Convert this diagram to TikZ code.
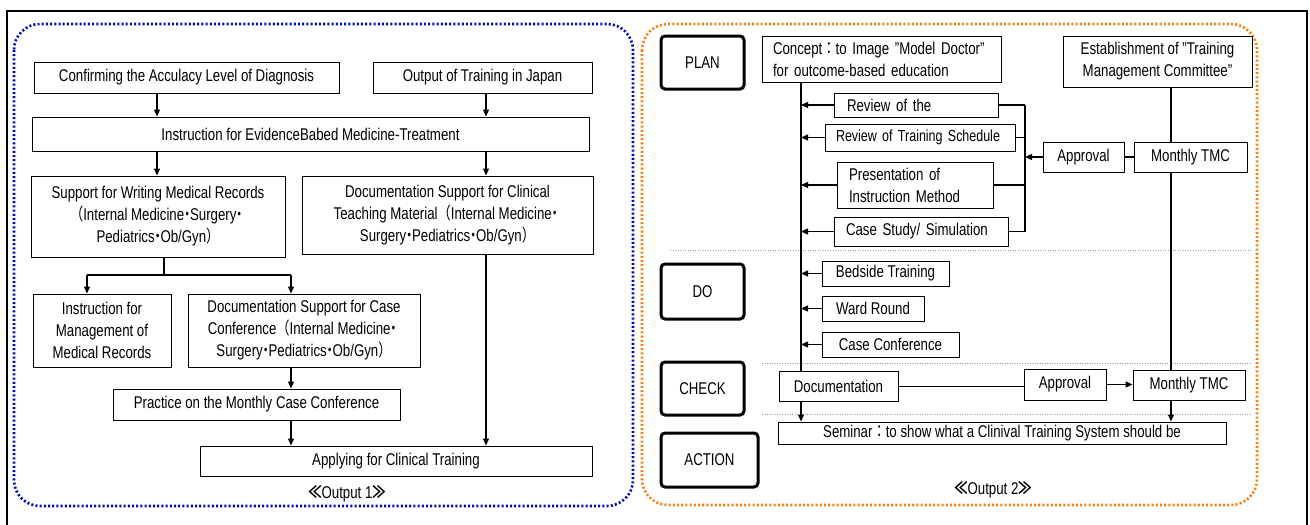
\documentclass[tikz,border=0pt]{standalone}
\usepackage{fontspec}
\setmainfont[FakeStretch=0.78]{Liberation Sans}
\newfontfamily\cjk[FakeStretch=0.78]{Noto Sans CJK JP}
\usetikzlibrary{arrows.meta}
\newcommand{\myLP}{{\cjk （}}
\newcommand{\myRP}{{\cjk ）}}
\newcommand{\myMD}{{\cjk\hspace{-0.22em}・\hspace{-0.22em}}}
\newcommand{\myFC}{{\cjk ：}}
\newcommand{\myLL}{{\cjk\bfseries ≪}}
\newcommand{\myRR}{{\cjk\bfseries ≫}}
\tikzset{
  box/.style={draw, line width=1pt, inner sep=0pt, align=center, font=\fontsize{17pt}{22pt}\selectfont},
  pdca/.style={draw, line width=3pt, rounded corners=4pt, inner sep=0pt, align=center, font=\fontsize{17pt}{22pt}\selectfont},
  arr/.style={line width=1.2pt, -{Triangle[length=7pt,width=6pt]}},
  ln/.style={line width=1.2pt},
  sepline/.style={gray!75, line width=1pt, dash pattern=on 1pt off 1.5pt},
  lbl/.style={inner sep=0pt, font=\fontsize{17pt}{20pt}\selectfont}
}
\begin{document}
\begin{tikzpicture}[x=1pt,y=-1pt]
\useasboundingbox (0,0) rectangle (1310,525);
% outer frame
\draw[line width=2pt] (7,11) rectangle (1307,540);
% panel frames
\draw[blue!90!black, line width=2.6pt, dash pattern=on 2pt off 2.2pt, rounded corners=26pt] (14,24) rectangle (633,506);
\draw[orange, line width=2.6pt, dash pattern=on 2pt off 2.2pt, rounded corners=26pt] (642,24) rectangle (1257,505);

% ---------------- left panel ----------------
\coordinate (cA) at (157,0);
\coordinate (cB) at (486,0);
\coordinate (cC) at (164,0);
\coordinate (cD) at (87,0);
\coordinate (cE) at (291,0);
\coordinate (hS) at (0,275);

\node[box, minimum width=305pt, minimum height=31pt] (conf) at (186.5,77.5) {Confirming the Acculacy Level of Diagnosis};
\node[box, minimum width=219pt, minimum height=31pt] (japan) at (482.5,77.5) {Output of Training in Japan};
\node[box, minimum width=557pt, minimum height=34pt] (ebm) at (310.5,134) {Instruction for EvidenceBabed Medicine-Treatment};
\node[box, minimum width=254pt, minimum height=81pt] (swmr) at (158,216.5) {Support for Writing Medical Records\\\myLP Internal Medicine\myMD Surgery\myMD\\Pediatrics\myMD Ob/Gyn\myRP};
\node[box, minimum width=291pt, minimum height=78pt] (dscl) at (447.5,215) {Documentation Support for Clinical\\Teaching Material\myLP Internal Medicine\myMD\\Surgery\myMD Pediatrics\myMD Ob/Gyn\myRP};
\node[box, minimum width=138pt, minimum height=73pt] (imr) at (102,330.5) {Instruction for\\Management of\\Medical Records};
\node[box, minimum width=232pt, minimum height=73pt] (dscc) at (304,330.5) {Documentation Support for Case\\Conference\myLP Internal Medicine\myMD\\Surgery\myMD Pediatrics\myMD Ob/Gyn\myRP};
\node[box, minimum width=287pt, minimum height=31pt] (prac) at (256.5,404.5) {Practice on the Monthly Case Conference};
\node[box, minimum width=392pt, minimum height=30pt] (apply) at (396,461) {Applying for Clinical Training};
\node[lbl] (out1) at (347,494) {\myLL Output 1\myRR};

\draw[arr] (conf.south -| cA) -- (ebm.north -| cA);
\draw[arr] (japan.south -| cB) -- (ebm.north -| cB);
\draw[arr] (ebm.south -| cA) -- (swmr.north -| cA);
\draw[arr] (ebm.south -| cB) -- (dscl.north -| cB);
\draw[ln] (swmr.south -| cC) -- (hS -| cC);
\draw[ln] (hS -| cD) -- (hS -| cE);
\draw[arr] (hS -| cD) -- (imr.north -| cD);
\draw[arr] (hS -| cE) -- (dscc.north -| cE);
\draw[arr] (dscc.south -| cE) -- (prac.north -| cE);
\draw[arr] (prac.south -| cE) -- (apply.north -| cE);
\draw[arr] (dscl.south -| cB) -- (apply.north -| cB);

% ---------------- right panel ----------------
\coordinate (vL) at (801,0);
\coordinate (vR) at (1025,0);
\coordinate (vT) at (1171,0);

\node[pdca, minimum width=83pt, minimum height=53pt] (plan) at (702.5,62.5) {PLAN};
\node[pdca, minimum width=83pt, minimum height=55pt] (do) at (702.5,291.5) {DO};
\node[pdca, minimum width=83pt, minimum height=53pt] (check) at (702.5,388.5) {CHECK};
\node[pdca, minimum width=97pt, minimum height=54pt] (action) at (709.5,460) {ACTION};

\node[box, minimum width=239pt, minimum height=46pt, text width=217pt, align=left] (concept) at (881.5,59) {Concept\myFC to Image "Model Doctor"\\for outcome-based education};
\node[box, minimum width=189pt, minimum height=51pt] (estab) at (1157.5,61.5) {Establishment of "Training\\Management Committee"};
\node[box, minimum width=164pt, minimum height=24pt, text width=138pt, align=left] (rev1) at (916,105) {Review of the};
\node[box, minimum width=190pt, minimum height=27pt, text width=168pt, align=left, font=\fontsize{16pt}{20pt}\selectfont] (rev2) at (920,137.5) {Review of Training Schedule};
\node[box, minimum width=156pt, minimum height=46pt, text width=132pt, align=left] (pres) at (915,185) {Presentation of\\Instruction Method};
\node[box, minimum width=174pt, minimum height=29pt, text width=150pt, align=left] (cases) at (921,231.5) {Case Study/ Simulation};
\node[box, minimum width=81pt, minimum height=30pt] (appr1) at (1083.5,157) {Approval};
\node[box, minimum width=113pt, minimum height=30pt] (tmc1) at (1190.5,157) {Monthly TMC};
\node[box, minimum width=127pt, minimum height=25pt] (bed) at (885.5,273.5) {Bedside Training};
\node[box, minimum width=102pt, minimum height=25pt] (ward) at (873,308.5) {Ward Round};
\node[box, minimum width=137pt, minimum height=25pt] (ccf) at (890.5,344.5) {Case Conference};
\node[box, minimum width=119pt, minimum height=30pt] (doc) at (838.5,386.5) {Documentation};
\node[box, minimum width=82pt, minimum height=31pt] (appr2) at (1065,384.5) {Approval};
\node[box, minimum width=112pt, minimum height=30pt] (tmc2) at (1189,385) {Monthly TMC};
\node[box, minimum width=448pt, minimum height=22pt] (sem) at (1002,433) {Seminar\myFC to show what a Clinival Training System should be};
\node[lbl] (out2) at (993,490) {\myLL Output 2\myRR};

% separators
\draw[sepline] (670,250) -- (1252,250);
\draw[sepline] (762,363) -- (1252,363);
\draw[sepline] (762,414) -- (1252,414);

% main vertical line
\draw[ln] (concept.south -| vL) -- (doc.north -| vL);
\foreach \n in {rev1,rev2,pres,cases,bed,ward,ccf}{
  \draw[arr] (\n.west) -- (\n.west -| vL);
}
% right bracket
\foreach \n in {rev1,rev2,pres,cases}{
  \draw[ln] (\n.east) -- (\n.east -| vR);
}
\draw[ln] (rev1.east -| vR) -- (cases.east -| vR);
\draw[arr] (appr1.west) -- (appr1.west -| vR);
\draw[ln] (appr1.east) -- (tmc1.west);
\draw[ln] (estab.south -| vT) -- (tmc1.north -| vT);
\draw[ln] (tmc1.south -| vT) -- (tmc2.north -| vT);
% check row
\draw[ln] (doc.east) -- (doc.east -| appr2.west);
\draw[arr] (appr2.east) -- (appr2.east -| tmc2.west);
\draw[arr] (doc.south -| vL) -- (sem.north -| vL);
\draw[arr] (tmc2.south -| vT) -- (sem.north -| vT);
\end{tikzpicture}
\end{document}
